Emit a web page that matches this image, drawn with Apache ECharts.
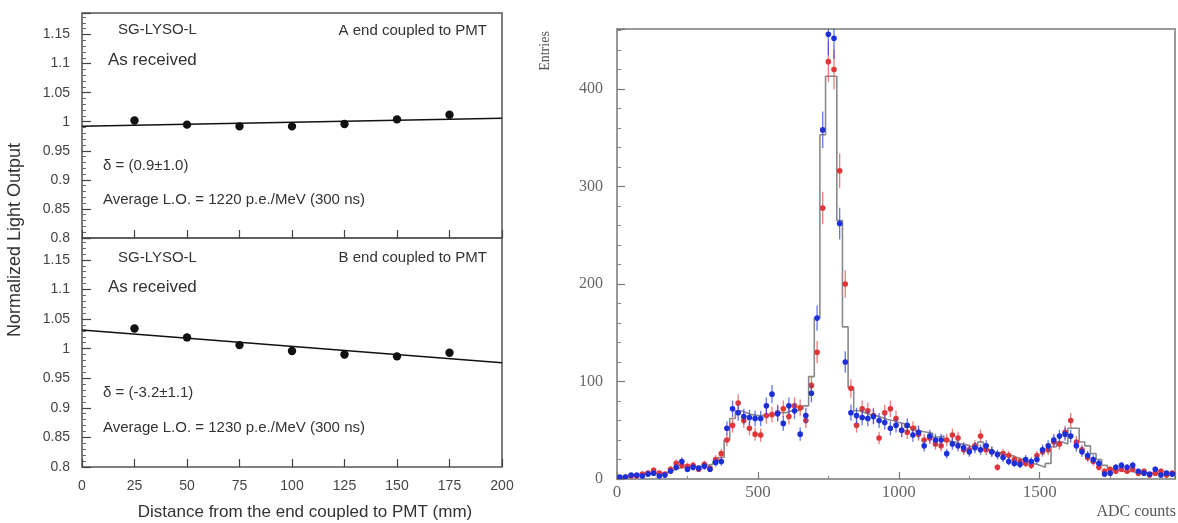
<!DOCTYPE html>
<html><head><meta charset="utf-8">
<script src="https://cdn.jsdelivr.net/npm/echarts@6/dist/echarts.min.js"></script>
<style>html,body{margin:0;padding:0;background:#fff}#c{width:1178px;height:523px}</style>
</head><body><div id="c"></div>
<script>
// ---------- Left panels: light output vs distance ----------
const distances = [25, 50, 75, 100, 125, 150, 175];
const lightOutputA = [1.002, 0.995, 0.992, 0.992, 0.996, 1.004, 1.012];
const lightOutputAErr = [0.004, 0.004, 0.004, 0.004, 0.004, 0.004, 0.004];
const lightOutputB = [1.034, 1.019, 1.006, 0.996, 0.990, 0.987, 0.993];
const lightOutputBErr = [0.005, 0.004, 0.004, 0.004, 0.005, 0.004, 0.005];
const fitX = [0, 200];
const fitA = [0.992, 1.006];
const fitB = [1.0316, 0.976];

// ---------- Right panel: ADC spectrum ----------
const adcBinWidth = 20;
const adcMax = 1980;
const blueCounts = [2,2,4,4,3,5,6,3,4,8, 12,18,10,12,11,13,10,17,18,52,
  72,68,64,63,62,62,75,87,67,57, 75,70,46,65,88,165,358,456,452,262,
  120,68,65,63,62,64,60,58,52,55, 50,55,45,48,34,44,40,40,26,36,
  34,32,28,32,30,34,28,25,22,18, 16,15,20,18,20,30,34,40,44,46,
  44,34,28,24,20,16,5,6,12,14, 12,14,8,6,5,10,4,6,5];
const redCounts = [1,2,3,3,5,6,9,6,5,10, 16,14,13,14,10,15,11,20,26,40,
  55,78,60,52,46,45,65,66,68,72, 64,75,73,60,96,130,278,428,420,316,
  200,93,55,72,70,65,42,68,72,62, 50,48,52,46,40,42,36,34,40,45,
  42,30,30,34,44,30,28,12,26,24, 20,18,16,14,24,28,30,38,36,48,
  60,38,30,22,18,12,8,10,8,10, 8,10,6,8,4,6,8,4,6];
const refCounts = [1,2,3,4,5,5,6,6,7,9, 11,12,12,13,13,14,15,18,22,40,
  62,70,68,66,65,65,66,67,68,68, 70,70,72,75,105,165,353,413,413,265,
  156,94,70,68,66,65,63,61,60,58, 57,53,54,49,48,47,43,44,39,38,
  36,35,33,32,38,30,28,27,25,24, 22,20,18,16,14,12,16,33,38,36,
  52,52,38,34,26,20,14,10,9,8, 8,7,7,6,6,5,5,4,4];

const leftYTicks = [0.8, 0.85, 0.9, 0.95, 1, 1.05, 1.1, 1.15];
const rightYTicks = [0, 100, 200, 300, 400];
const rightXTicks = [0, 500, 1000, 1500];

const SANS = "'Liberation Sans', Arial, sans-serif";
const SERIF = "'Liberation Serif', 'Times New Roman', serif";

function leftFmt(v) {
  const r = Math.round(v * 100) / 100;
  return leftYTicks.some(t => Math.abs(t - r) < 1e-6) ? String(r) : '';
}

function errRenderer(color, barColor, r) {
  return function (params, api) {
    const x = api.value(0), y = api.value(1), e = api.value(2);
    const p = api.coord([x, y]);
    const lo = api.coord([x, y - e]);
    const hi = api.coord([x, y + e]);
    return { type: 'group', children: [
      { type: 'line', shape: { x1: p[0], y1: lo[1], x2: p[0], y2: hi[1] }, style: { stroke: barColor, lineWidth: 1.3 } },
      { type: 'circle', shape: { cx: p[0], cy: p[1], r: r }, style: { fill: color } }
    ]};
  };
}

const centers = blueCounts.map((_, i) => (i + 0.5) * adcBinWidth);
const blueData = blueCounts.map((v, i) => [centers[i], v, Math.sqrt(v)]);
const redData = redCounts.map((v, i) => [centers[i], v, Math.sqrt(v)]);
const refData = refCounts.map((v, i) => [i * adcBinWidth, v]);
refData.push([refCounts.length * adcBinWidth, refCounts[refCounts.length - 1]]);

const leftAData = distances.map((d, i) => [d, lightOutputA[i], lightOutputAErr[i]]);
const leftBData = distances.map((d, i) => [d, lightOutputB[i], lightOutputBErr[i]]);

function leftX(gi, showLabels) {
  return {
    type: 'value', gridIndex: gi, min: 0, max: 200, interval: 25,
    axisLine: { show: false }, splitLine: { show: false },
    axisTick: { show: true, inside: true, length: 8, lineStyle: { color: '#444', width: 1.2 } },
    axisLabel: { show: showLabels, margin: 12, fontFamily: SANS, fontSize: 14, color: '#444' }
  };
}
function leftY(gi) {
  return {
    type: 'value', gridIndex: gi, min: 0.8, max: 1.187, interval: 0.05,
    axisLine: { show: false }, splitLine: { show: false },
    axisTick: { show: true, inside: true, length: 9, lineStyle: { color: '#444', width: 1.2 } },
    minorTick: { show: true, splitNumber: 5, length: 4, lineStyle: { color: '#666' } },
    axisLabel: { margin: 12, fontFamily: SANS, fontSize: 14, color: '#444', formatter: leftFmt }
  };
}

function txt(x, y, s, size, opts) {
  return Object.assign({
    type: 'text', x: x, y: y,
    style: { text: s, fontFamily: SANS, fontSize: size, fill: '#333', textAlign: 'left', textVerticalAlign: 'middle' }
  }, opts || {});
}

const option = {
  animation: false,
  backgroundColor: '#fff',
  grid: [
    { left: 82, top: 13, width: 420, height: 225, show: true, borderColor: '#555', borderWidth: 1.5, backgroundColor: 'transparent' },
    { left: 82, top: 238, width: 420, height: 229, show: true, borderColor: '#555', borderWidth: 1.5, backgroundColor: 'transparent' },
    { left: 617, top: 29, width: 560, height: 450, show: true, borderColor: '#999', borderWidth: 2, backgroundColor: 'transparent' }
  ],
  xAxis: [
    leftX(0, false),
    leftX(1, true),
    {
      type: 'value', gridIndex: 2, min: 0, max: adcMax, interval: 500,
      axisLine: { show: false }, splitLine: { show: false },
      axisTick: { show: true, inside: true, length: 7, lineStyle: { color: '#777', width: 1.2 } },
      minorTick: { show: true, splitNumber: 2, length: 3, lineStyle: { color: '#888' } },
      axisLabel: { margin: 5, fontFamily: SERIF, fontSize: 17, color: '#666',
        formatter: v => rightXTicks.includes(Math.round(v)) ? String(Math.round(v)) : '' }
    }
  ],
  yAxis: [
    leftY(0),
    leftY(1),
    {
      type: 'value', gridIndex: 2, min: 0, max: 461.5, interval: 100,
      axisLine: { show: false }, splitLine: { show: false },
      axisTick: { show: true, inside: true, length: 8, lineStyle: { color: '#777', width: 1.2 } },
      minorTick: { show: true, splitNumber: 5, length: 4, lineStyle: { color: '#888' } },
      axisLabel: { margin: 14, fontFamily: SERIF, fontSize: 16, color: '#666',
        formatter: v => rightYTicks.includes(Math.round(v)) ? String(Math.round(v)) : '' }
    }
  ],
  series: [
    { type: 'line', xAxisIndex: 0, yAxisIndex: 0, data: fitX.map((x, i) => [x, fitA[i]]),
      symbol: 'none', lineStyle: { color: '#111', width: 1.5 }, z: 2 },
    { type: 'custom', xAxisIndex: 0, yAxisIndex: 0, data: leftAData,
      renderItem: errRenderer('#111', '#111', 4.2), z: 3 },
    { type: 'line', xAxisIndex: 1, yAxisIndex: 1, data: fitX.map((x, i) => [x, fitB[i]]),
      symbol: 'none', lineStyle: { color: '#111', width: 1.5 }, z: 2 },
    { type: 'custom', xAxisIndex: 1, yAxisIndex: 1, data: leftBData,
      renderItem: errRenderer('#111', '#111', 4.2), z: 3 },
    { type: 'line', xAxisIndex: 2, yAxisIndex: 2, data: refData, step: 'end',
      symbol: 'none', lineStyle: { color: '#8a8a8a', width: 1.6 }, z: 2 },
    { type: 'custom', xAxisIndex: 2, yAxisIndex: 2, data: redData, clip: true,
      renderItem: errRenderer('#e0363a', 'rgba(230,80,80,0.75)', 2.8), z: 3 },
    { type: 'custom', xAxisIndex: 2, yAxisIndex: 2, data: blueData, clip: true,
      renderItem: errRenderer('#1c2fd8', 'rgba(50,70,230,0.75)', 2.8), z: 4 }
  ],
  graphic: [
    txt(118, 30, 'SG-LYSO-L', 15),
    txt(487, 31, 'A end coupled to PMT', 15, { style: { text: 'A end coupled to PMT', fontFamily: SANS, fontSize: 15, fill: '#333', textAlign: 'right', textVerticalAlign: 'middle' } }),
    txt(108, 60, 'As received', 17),
    txt(103, 166, 'δ = (0.9±1.0)', 15),
    txt(103, 200, 'Average L.O. = 1220 p.e./MeV (300 ns)', 15),
    txt(118, 258, 'SG-LYSO-L', 15),
    txt(487, 258, 'B end coupled to PMT', 15, { style: { text: 'B end coupled to PMT', fontFamily: SANS, fontSize: 15, fill: '#333', textAlign: 'right', textVerticalAlign: 'middle' } }),
    txt(108, 287, 'As received', 17),
    txt(103, 393, 'δ = (-3.2±1.1)', 15),
    txt(103, 428, 'Average L.O. = 1230 p.e./MeV (300 ns)', 15),
    { type: 'text', x: 15, y: 240, rotation: Math.PI / 2,
      style: { text: 'Normalized Light Output', fontFamily: SANS, fontSize: 18, fill: '#333', textAlign: 'center', textVerticalAlign: 'middle' } },
    { type: 'text', x: 305, y: 512,
      style: { text: 'Distance from the end coupled to PMT (mm)', fontFamily: SANS, fontSize: 17, fill: '#333', textAlign: 'center', textVerticalAlign: 'middle' } },
    { type: 'text', x: 545, y: 51, rotation: Math.PI / 2,
      style: { text: 'Entries', fontFamily: SERIF, fontSize: 14, fill: '#555', textAlign: 'center', textVerticalAlign: 'middle' } },
    { type: 'text', x: 1176, y: 512,
      style: { text: 'ADC counts', fontFamily: SERIF, fontSize: 16, fill: '#555', textAlign: 'right', textVerticalAlign: 'middle' } }
  ]
};

const chart = echarts.init(document.getElementById('c'), null, { renderer: 'canvas' });
chart.setOption(option);
</script>
</body></html>
